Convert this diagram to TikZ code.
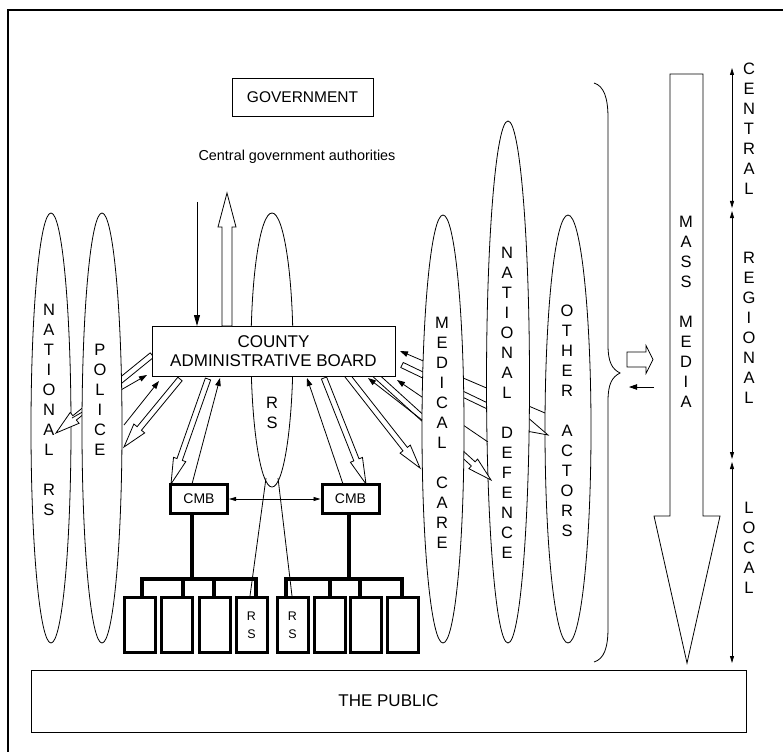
\documentclass[tikz,border=0pt]{standalone}
\usepackage{fontspec}
\setmainfont{Liberation Sans}
\usetikzlibrary{calc,arrows.meta,shapes.geometric}
\newcommand\hollowarr[5]{%
  \coordinate (hbS) at #1;
  \coordinate (hbT) at #2;
  \coordinate (hbB) at ($(hbT)!#5!(hbS)$);
  \draw[fill=white, line join=miter] ($(hbS)!#3!90:(hbT)$) -- ($(hbB)!#3!90:(hbT)$) -- ($(hbB)!#4!90:(hbT)$) -- (hbT) -- ($(hbB)!#4!-90:(hbT)$) -- ($(hbB)!#3!-90:(hbT)$) -- ($(hbS)!#3!-90:(hbT)$) -- cycle;}
\begin{document}
\begin{tikzpicture}[x=1pt,y=-1pt,line width=0.8pt,
  tall/.style={ellipse, draw, fill=white, inner sep=0pt},
  vtext/.style={align=center, font=\fontsize{16.5}{20}\selectfont, inner sep=0pt},
  thinarr/.style={-{Triangle[length=8pt,width=5.5pt]}},
  lvl/.style={{Triangle[length=7pt,width=4pt]}-{Triangle[length=7pt,width=4pt]}},
  heavybox/.style={draw, line width=3pt, fill=white, inner sep=0pt},
  plainbox/.style={draw, fill=white, inner sep=0pt},
  busline/.style={line width=3.5pt}]
\useasboundingbox (0,0) rectangle (783,751);
\clip (0,0) rectangle (783,751);
\draw[line width=1.6pt] (8,10) rectangle (800,770);

% National RS
\node[tall, minimum width=40, minimum height=430] (nrs) at (51,428) {};
\coordinate (nrsHs) at (152,355); \coordinate (nrsHt) at (56,433);
\hollowarr{(nrsHs)}{(nrsHt)}{2.8pt}{7pt}{24pt}
\coordinate (nrsTs) at (72,418); \coordinate (nrsTt) at (147,375);
\draw[thinarr] (nrsTs) -- (nrsTt);

% Police
\node[tall, minimum width=40, minimum height=430] (pol) at (102,428) {};
\coordinate (polTs) at (124,425); \coordinate (polTt) at (159,381);
\draw[thinarr] (polTs) -- (polTt);
\coordinate (polHs) at (180,379); \coordinate (polHt) at (124,447);
\hollowarr{(polHs)}{(polHt)}{2.8pt}{7pt}{24pt}

% Other actors
\node[tall, minimum width=46, minimum height=428] (oa) at (568,429) {};
\coordinate (oaTs) at (545,413); \coordinate (oaTt) at (400,351);
\draw[thinarr] (oaTs) -- (oaTt);
\coordinate (oaHs) at (402,365); \coordinate (oaHt) at (548,435);
\hollowarr{(oaHs)}{(oaHt)}{2.8pt}{6.5pt}{24pt}

% National defence
\node[tall, minimum width=43, minimum height=522] (nd) at (508,382) {};
\coordinate (ndTs) at (488,442); \coordinate (ndTt) at (397,380);
\draw[thinarr] (ndTs) -- (ndTt);
\coordinate (ndHs) at (372,372); \coordinate (ndHt) at (491,480);
\hollowarr{(ndHs)}{(ndHt)}{2.8pt}{6.5pt}{24pt}

% Medical care
\node[tall, minimum width=42, minimum height=428] (med) at (443,429) {};
\coordinate (medTs) at (422,420); \coordinate (medTt) at (368,378);
\draw[thinarr] (medTs) -- (medTt);
\coordinate (medHs) at (347,375); \coordinate (medHt) at (420,468);
\hollowarr{(medHs)}{(medHt)}{2.8pt}{6.5pt}{24pt}

% RS ellipse
\node[tall, minimum width=42, minimum height=274] (rs) at (272,350) {};
\coordinate (rsL) at (266,478); \coordinate (rsR) at (278,478);

% CMB arrows
\coordinate (cLHs) at (208,379); \coordinate (cLHt) at (171,484);
\hollowarr{(cLHs)}{(cLHt)}{2.8pt}{6.5pt}{26pt}
\coordinate (cLTs) at (192,484); \coordinate (cLTt) at (220,378);
\draw[thinarr] (cLTs) -- (cLTt);
\coordinate (cRHs) at (324,378); \coordinate (cRHt) at (366,484);
\hollowarr{(cRHs)}{(cRHt)}{2.8pt}{6.5pt}{26pt}
\coordinate (cRTs) at (343,484); \coordinate (cRTt) at (307,378);
\draw[thinarr] (cRTs) -- (cRTt);

% lines from RS down to RS units
\coordinate (rsb1) at (250,596); \coordinate (rsb2) at (292,596);
\draw (rsL) -- (rsb1);
\draw (rsR) -- (rsb2);

% CMB boxes
\node[heavybox, minimum width=57, minimum height=29, font=\fontsize{14}{16}\selectfont] (cmbL) at (199,499) {CMB};
\node[heavybox, minimum width=57, minimum height=29, font=\fontsize{14}{16}\selectfont] (cmbR) at (350.5,499) {CMB};
\draw[lvl] (cmbL.east) -- (cmbR.west);

% bus lines
\draw[busline] (192,514) -- (192,579);
\draw[busline] (349,514) -- (349,579);
\draw[busline] (142,596) -- (142,579) -- (256,579) -- (256,596);
\draw[busline] (183,579) -- (183,596);
\draw[busline] (214,579) -- (214,596);
\draw[busline] (286,596) -- (286,579) -- (402,579) -- (402,596);
\draw[busline] (330,579) -- (330,596);
\draw[busline] (360,579) -- (360,596);

% municipal units
\foreach \n/\x in {b1/140,b2/176.5,b3/214.5,b4/251.5,b5/292.5,b6/329.5,b7/366,b8/403}
  \node[heavybox, minimum width=31, minimum height=55] (\n) at (\x,625) {};
\node[align=center, font=\fontsize{12.5}{18}\selectfont, inner sep=0pt] at (b4) {R\\S};
\node[align=center, font=\fontsize{12.5}{18}\selectfont, inner sep=0pt] at (b5) {R\\S};

% County administrative board
\node[plainbox, minimum width=243, minimum height=50, align=center, font=\fontsize{17}{19}\selectfont] (cab) at (273.5,351) {COUNTY\\ADMINISTRATIVE BOARD};

% Government
\node[plainbox, minimum width=141, minimum height=38, font=\fontsize{15.5}{18}\selectfont] (gov) at (302.5,97) {GOVERNMENT};
\node[font=\fontsize{14.4}{16}\selectfont, inner sep=0pt] (cga) at (297,157) {Central government authorities};
\coordinate (downS) at (197,202); \coordinate (downT) at (197,326);
\draw[-{Triangle[length=11pt,width=6pt]}] (downS) -- (downT);
\coordinate (upS) at (227,326); \coordinate (upT) at (227,193);
\hollowarr{(upS)}{(upT)}{5pt}{9pt}{34pt}

% brace
\draw (594,83) .. controls (604,86) and (608,98) .. (608,118) -- (608,345)
  .. controls (608,362) and (612,369) .. (620,373)
  .. controls (612,377) and (608,384) .. (608,401) -- (608,628)
  .. controls (608,648) and (604,659) .. (594,662);

% arrows to/from mass media
\coordinate (mmHs) at (627,359.5); \coordinate (mmHt) at (653,359.5);
\hollowarr{(mmHs)}{(mmHt)}{7.5pt}{14pt}{7pt}
\coordinate (mmTs) at (654,387); \coordinate (mmTt) at (629,387);
\draw[thinarr] (mmTs) -- (mmTt);

% Mass media big arrow
\draw[fill=white] (670,74) -- (703,74) -- (703,516) -- (720,516) -- (687,663) -- (654,516) -- (670,516) -- cycle;
\node[vtext] (mmtext) at (686,312) {M\\A\\S\\S\\[20pt]M\\E\\D\\I\\A};

% levels
\coordinate (l0) at (732,68); \coordinate (l1) at (732,208);
\coordinate (l2) at (732,211); \coordinate (l3) at (732,459);
\coordinate (l4) at (732,462); \coordinate (l5) at (732,663);
\draw[lvl] (l0) -- (l1);
\draw[lvl] (l2) -- (l3);
\draw[lvl] (l4) -- (l5);
\node[vtext] at (749,129) {C\\E\\N\\T\\R\\A\\L};
\node[vtext] at (749,328) {R\\E\\G\\I\\O\\N\\A\\L};
\node[vtext] at (749,548) {L\\O\\C\\A\\L};

% The public
\node[plainbox, minimum width=715, minimum height=62, font=\fontsize{17}{19}\selectfont] (pub) at (388.5,701) {THE PUBLIC};

% vertical labels
\node[vtext] at (49,410) {N\\A\\T\\I\\O\\N\\A\\L\\[20pt]R\\S};
\node[vtext] at (100,400) {P\\O\\L\\I\\C\\E};
\node[vtext] at (272,413) {R\\S};
\node[vtext] at (442,433) {M\\E\\D\\I\\C\\A\\L\\[20pt]C\\A\\R\\E};
\node[vtext] at (507,403) {N\\A\\T\\I\\O\\N\\A\\L\\[20pt]D\\E\\F\\E\\N\\C\\E};
\node[vtext] at (567,421) {O\\T\\H\\E\\R\\[20pt]A\\C\\T\\O\\R\\S};
\end{tikzpicture}
\end{document}
